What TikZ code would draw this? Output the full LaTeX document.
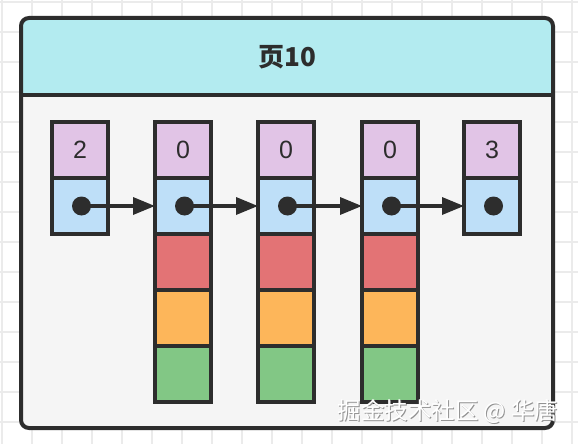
\documentclass[tikz,border=0pt]{standalone}
\usepackage{fontspec}
\setmainfont{Liberation Sans}
\newfontfamily\cjk{Noto Sans CJK SC}
\usetikzlibrary{arrows.meta}
\definecolor{strokec}{HTML}{2D2D2D}
\definecolor{gridc}{HTML}{EBEBEB}
\definecolor{headc}{HTML}{B3EBF0}
\definecolor{bodyc}{HTML}{F5F5F5}
\definecolor{purc}{HTML}{E1C4E6}
\definecolor{bluc}{HTML}{BEDFF8}
\definecolor{redc}{HTML}{E37375}
\definecolor{orac}{HTML}{FDB65A}
\definecolor{grnc}{HTML}{82C785}
\tikzset{
  cell/.style={draw=strokec, line width=3.6pt, minimum width=56pt, minimum height=56pt, inner sep=0pt, outer sep=0pt, font=\fontsize{25}{25}\selectfont, text=strokec},
  dotc/.style={circle, fill=strokec, minimum size=19pt, inner sep=0pt},
  ptr/.style={draw=strokec, line width=3.4pt, -{Triangle[length=22pt,width=17pt]}}
}
\begin{document}
\begin{tikzpicture}[x=1pt,y=-1pt]
\useasboundingbox (0,0) rectangle (578,444);
\fill[white] (0,0) rectangle (578,444);
% grid
\foreach \i in {0,...,19} {\draw[gridc, line width=1.2pt] (2+30*\i,0) -- (2+30*\i,444);}
\foreach \j in {0,...,14} {\draw[gridc, line width=1.2pt] (0,2+30*\j) -- (578,2+30*\j);}
% outer box
\fill[bodyc, rounded corners=8pt] (21,18) rectangle (553,428);
\fill[headc, rounded corners=8pt] (21,18) rectangle (553,60);
\fill[headc] (21,50) rectangle (553,95);
\draw[strokec, line width=3.6pt] (21,95) -- (553,95);
\draw[strokec, line width=4pt, rounded corners=8pt] (21,18) rectangle (553,428);
\node[text=strokec, font=\cjk\bfseries\fontsize{26}{26}\selectfont] (title) at (287,57) {页10};
% columns
\foreach \n/\x/\v in {a/80/2, b/183/0, c/286/0, d/390/0, e/492/3} {
  \node[cell, fill=purc] (\n k) at (\x,150) {\v};
  \node[cell, fill=bluc] (\n p) at (\x,206) {};
  \node[dotc] (\n d) at (\x+1.5,206) {};
}
\foreach \n/\x in {b/183, c/286, d/390} {
  \node[cell, fill=redc] (\n r) at (\x,262) {};
  \node[cell, fill=orac] (\n o) at (\x,318) {};
  \node[cell, fill=grnc] (\n g) at (\x,374) {};
}
\draw[ptr] (ad.center) -- (bp.west);
\draw[ptr] (bd.center) -- (cp.west);
\draw[ptr] (cd.center) -- (dp.west);
\draw[ptr] (dd.center) -- (ep.west);
% watermark
\node[text=gray!85, font=\cjk\fontsize{23.5}{23.5}\selectfont, anchor=east] (wms) at (563,413) {掘金技术社区 @ 华唐};
\node[text=white, font=\cjk\fontsize{23.5}{23.5}\selectfont, anchor=east] (wm) at (562,412) {掘金技术社区 @ 华唐};
\end{tikzpicture}
\end{document}
